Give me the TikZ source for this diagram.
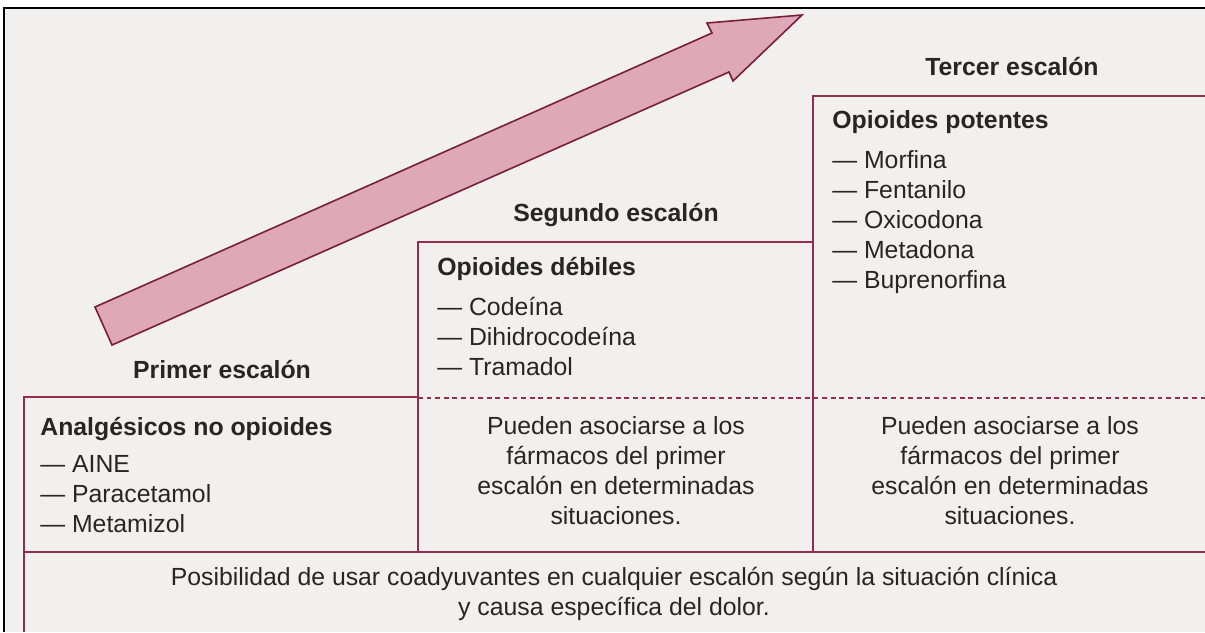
\documentclass[tikz,border=0pt]{standalone}
\usepackage{fontspec}
\setmainfont{Liberation Sans}
\usepackage{xcolor}
\usetikzlibrary{positioning}

\definecolor{stepred}{RGB}{150,45,80}
\definecolor{arrowpink}{RGB}{222,168,183}
\definecolor{arrowline}{RGB}{120,30,60}
\definecolor{paper}{RGB}{241,240,238}

\begin{document}
\begin{tikzpicture}[x=0.5pt,y=-0.5pt,
	every node/.style={font=\fontsize{12.4}{15}\selectfont, inner sep=0pt, text=black!85},
	stepline/.style={draw=stepred, line width=1.2pt},
	steptitle/.style={font=\fontsize{12.4}{15}\selectfont\bfseries},
	druglist/.style={align=left},
	assocbox/.style={align=center}]

	\useasboundingbox (0,0) rectangle (1205,632);

	% outer frame
	\fill[paper] (4,8) rectangle (1205,632);
	\draw[black, line width=1pt] (1205,8) -- (4,8) -- (4,632);

	% big arrow
	\filldraw[fill=arrowpink, draw=arrowline, line width=0.8pt, line join=miter]
		(95,307) -- (712,33) -- (707,23) -- (802,15) -- (733,81) -- (729,72) -- (112,345) -- cycle;

	% steps
	\draw[stepline] (24,632) -- (24,397) -- (418,397);
	\draw[stepline] (418,552) -- (418,242) -- (813,242);
	\draw[stepline] (813,552) -- (813,96) -- (1205,96);
	\draw[stepline, line width=0.9pt, dash pattern=on 2.4pt off 1.9pt] (418,398) -- (1205,398);
	\draw[stepline] (24,552) -- (1205,552);

	% step titles
	\node[steptitle] (title1) at (222,370) {Primer escalón};
	\node[steptitle] (title2) at (616,215) {Segundo escalón};
	\node[steptitle] (title3) at (1012,67) {Tercer escalón};

	% first step
	\node[steptitle, anchor=west] (hd1) at (40,429) {Analgésicos no opioides};
	\node[druglist, below right=7pt and 0pt of hd1.south west] (list1)
		{— AINE\\— Paracetamol\\— Metamizol};

	% second step
	\node[steptitle, anchor=west] (hd2) at (437,269) {Opioides débiles};
	\node[druglist, below right=8pt and 0pt of hd2.south west] (list2)
		{— Codeína\\— Dihidrocodeína\\— Tramadol};
	\node[assocbox] (assoc2) at (616,471)
		{Pueden asociarse a los\\fármacos del primer\\escalón en determinadas\\situaciones.};

	% third step
	\node[steptitle, anchor=west] (hd3) at (832,122) {Opioides potentes};
	\node[druglist, below right=8pt and 0pt of hd3.south west] (list3)
		{— Morfina\\— Fentanilo\\— Oxicodona\\— Metadona\\— Buprenorfina};
	\node[assocbox] (assoc3) at (1010,471)
		{Pueden asociarse a los\\fármacos del primer\\escalón en determinadas\\situaciones.};

	% bottom row
	\node[assocbox] (note) at (614,594)
		{Posibilidad de usar coadyuvantes en cualquier escalón según la situación clínica\\y causa específica del dolor.};

\end{tikzpicture}
\end{document}
